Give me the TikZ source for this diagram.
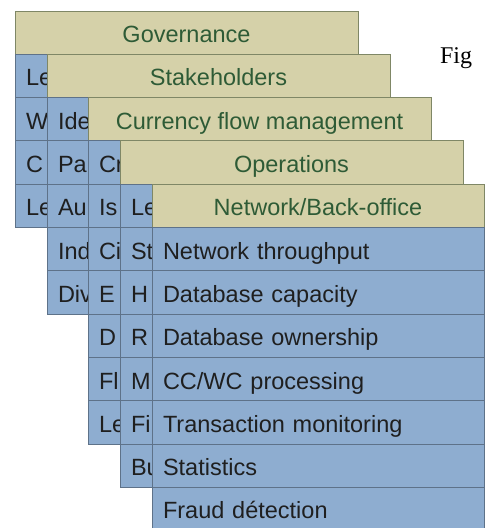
\documentclass[tikz,border=0pt]{standalone}
\usepackage{fontspec}
\newfontfamily\cardfont{Liberation Sans}
\newfontfamily\figfont{Liberation Serif}
\usetikzlibrary{positioning}
\definecolor{cardtan}{HTML}{D5D1A9}
\definecolor{cardblue}{HTML}{8EADD0}
\definecolor{hdredge}{HTML}{7F8766}
\definecolor{itemedge}{HTML}{5E7289}
\definecolor{hdrgreen}{HTML}{2E5B36}

\begin{document}
\begin{tikzpicture}[x=1pt,y=-1pt,node distance=0pt,
        every node/.style={outer sep=0pt},
        hdr/.style={draw=hdredge,line width=0.9pt,fill=cardtan,text=hdrgreen,minimum width=343pt,
            minimum height=43.3pt,inner sep=0pt,text height=20pt,text depth=0pt,anchor=north west,
            font=\cardfont\fontsize{23.5}{26}\selectfont},
        item/.style={draw=itemedge,line width=0.9pt,fill=cardblue,text=black!88,text width=321pt,
            minimum height=43.3pt,inner xsep=11pt,inner ysep=0pt,align=left,text height=20pt,text depth=0pt,
            font=\cardfont\fontsize{23.5}{26}\selectfont}]
    \useasboundingbox (0,0) rectangle (485,528);
    % Governance
    \node[hdr] (gov) at (15,11) {Governance};
    \node[item] (gov_1) [below=of gov] {Le};
    \node[item] (gov_2) [below=of gov_1] {W};
    \node[item] (gov_3) [below=of gov_2] {C};
    \node[item] (gov_4) [below=of gov_3] {Le};
    % Stakeholders
    \node[hdr] (stk) at (47,54.3) {Stakeholders};
    \node[item] (stk_1) [below=of stk] {Ide};
    \node[item] (stk_2) [below=of stk_1] {Pa};
    \node[item] (stk_3) [below=of stk_2] {Au};
    \node[item] (stk_4) [below=of stk_3] {Ind};
    \node[item] (stk_5) [below=of stk_4] {Div};
    % Currency flow management
    \node[hdr] (cfm) at (88,97.6) {Currency flow management};
    \node[item] (cfm_1) [below=of cfm] {Cr};
    \node[item] (cfm_2) [below=of cfm_1] {Is};
    \node[item] (cfm_3) [below=of cfm_2] {Ci};
    \node[item] (cfm_4) [below=of cfm_3] {E};
    \node[item] (cfm_5) [below=of cfm_4] {D};
    \node[item] (cfm_6) [below=of cfm_5] {Fl};
    \node[item] (cfm_7) [below=of cfm_6] {Le};
    % Operations
    \node[hdr] (ops) at (120,140.9) {Operations};
    \node[item] (ops_1) [below=of ops] {Le};
    \node[item] (ops_2) [below=of ops_1] {St};
    \node[item] (ops_3) [below=of ops_2] {H};
    \node[item] (ops_4) [below=of ops_3] {R};
    \node[item] (ops_5) [below=of ops_4] {M};
    \node[item] (ops_6) [below=of ops_5] {Fi};
    \node[item] (ops_7) [below=of ops_6] {Bu};
    % Network/Back-office
    \node[hdr,minimum width=332pt] (net) at (152,184.2) {Network/Back-office};
    \node[item,text width=310pt] (net_1) [below=of net] {Network throughput};
    \node[item,text width=310pt] (net_2) [below=of net_1] {Database capacity};
    \node[item,text width=310pt] (net_3) [below=of net_2] {Database ownership};
    \node[item,text width=310pt] (net_4) [below=of net_3] {CC/WC processing};
    \node[item,text width=310pt] (net_5) [below=of net_4] {Transaction monitoring};
    \node[item,text width=310pt] (net_6) [below=of net_5] {Statistics};
    \node[item,text width=310pt] (net_7) [below=of net_6] {Fraud détection};
    \node[anchor=base west,inner sep=0pt,font=\figfont\fontsize{24}{26}\selectfont] (fig) at (440,63) {Fig};
\end{tikzpicture}
\end{document}
